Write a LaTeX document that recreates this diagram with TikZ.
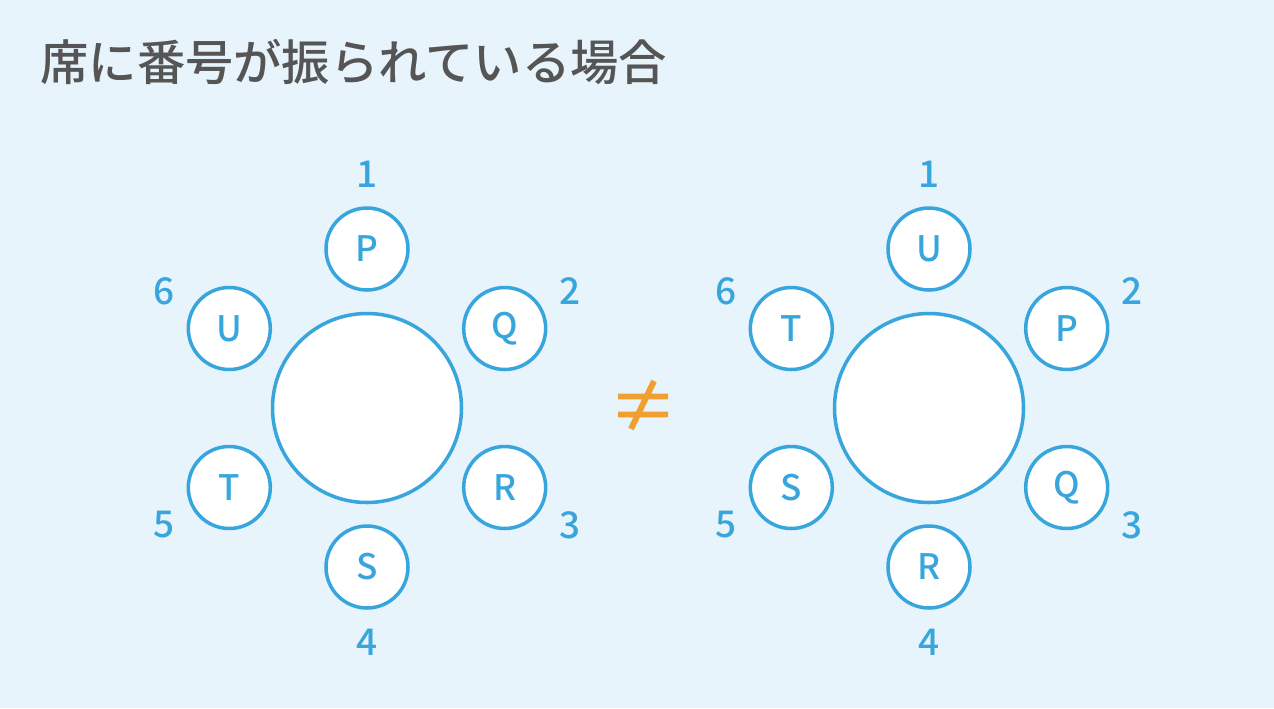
\documentclass[tikz,border=0pt]{standalone}
\usepackage{fontspec}
\setmainfont{Noto Sans CJK JP}[BoldFont={Noto Sans CJK JP Medium}]
\definecolor{bgblue}{HTML}{E8F4FC}
\definecolor{seatblue}{HTML}{38A6DC}
\definecolor{titlegray}{HTML}{555555}
\definecolor{neqorange}{HTML}{F0A030}
\tikzset{
    tbl/.style = {circle, draw=seatblue, line width=2pt, fill=white, minimum size=3.78cm},
    seat/.style = {circle, draw=seatblue, line width=2pt, fill=white, minimum size=1.64cm, inner sep=0pt,
                   text=seatblue, font=\bfseries\fontsize{20}{20}\selectfont},
    num/.style = {text=seatblue, font=\bfseries\fontsize{21}{21}\selectfont}
}
\newcommand{\roundtable}[3]{% center name, x, seat letters
    \node[tbl] (#1) at (#2,-8.16) {};
    \foreach \lab [count=\i] in {#3} {
        \pgfmathsetmacro{\ang}{90-60*(\i-1)}
        \node[seat] (#1s\i) at ($(#1)+(\ang:3.18)$) {\lab};
        \node[num] (#1n\i) at ($(#1)+(\ang:4.68)$) {\i};
    }
}
\usetikzlibrary{calc}
\begin{document}
\begin{tikzpicture}
    \fill[bgblue] (0,0) rectangle (25.48,-14.16);
    \useasboundingbox (0,0) rectangle (25.48,-14.16);
    \node[anchor=west, inner sep=0pt, text=titlegray, font=\bfseries\fontsize{27.5}{27.5}\selectfont] (title) at (0.8,-1.24) {席に番号が振られている場合};

    % left and right tables
    \roundtable{L}{7.34}{P,Q,R,S,T,U}
    \roundtable{R}{18.58}{U,P,Q,R,S,T}

    % not-equal sign
    \coordinate (neq) at (12.86,-8.1);
    \draw[neqorange, line width=3.4pt] ($(neq)+(-0.5,0.17)$) -- ($(neq)+(0.5,0.17)$)
        ($(neq)+(-0.5,-0.19)$) -- ($(neq)+(0.5,-0.19)$)
        ($(neq)+(-0.24,-0.48)$) -- ($(neq)+(0.22,0.48)$);
\end{tikzpicture}
\end{document}
